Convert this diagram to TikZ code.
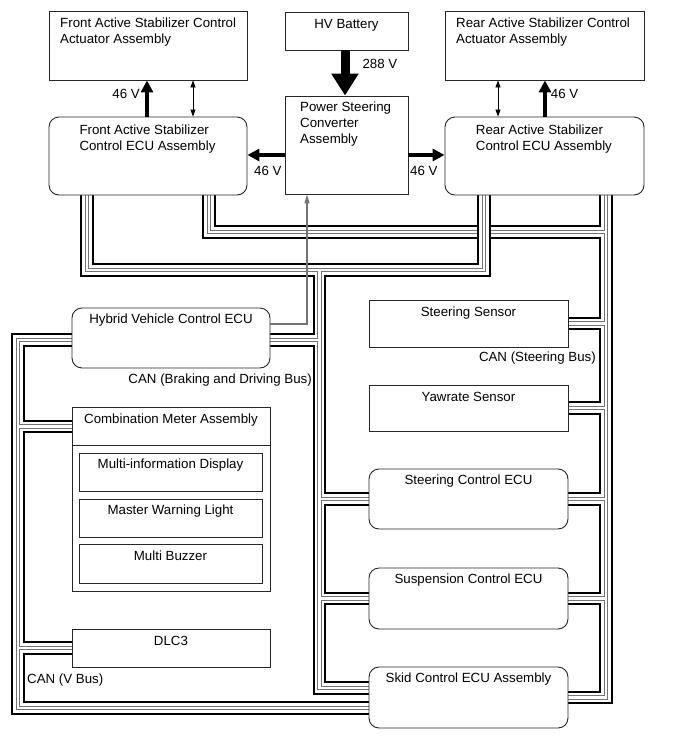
\documentclass[tikz,border=0pt]{standalone}
\usepackage{fontspec}
\setmainfont{Liberation Sans}
\usetikzlibrary{arrows.meta}
\pgfdeclarelayer{back}
\pgfdeclarelayer{bus}
\pgfsetlayers{back,bus,main}
\newcommand\busSteer[1]{%
  \draw[#1] (fecu.south -| sA) -- (sA) -- (sJ);
  \draw[#1] (recu.south -| sJ) -- (sB) -- (skid.east |- sB);
  \draw[#1] (ssens.east) -- (ssens.east -| sJ);
  \draw[#1] (yaw.east) -- (yaw.east -| sJ);
  \draw[#1] (sce.east) -- (sce.east -| sJ);
  \draw[#1] (susp.east) -- (susp.east -| sJ);
}
\newcommand\busBD[1]{%
  \draw[#1] (fecu.south -| bA) -- (bA) -- (bB) -- (recu.south -| bB);
  \draw[#1] (bJ) -- (bC) -- (skid.west |- bC);
  \draw[#1] (hvecu.east |- bH) -- (bH);
  \draw[#1] (sce.west -| bJ) -- (sce.west);
  \draw[#1] (susp.west -| bJ) -- (susp.west);
}
\newcommand\busV[1]{%
  \draw[#1] (hvecu.west |- vA) -- (vA) -- (vB) -- (skid.west |- vB);
  \draw[#1] (vC) -- (comb.west |- vC);
  \draw[#1] (vD) -- (dlc.west |- vD);
}
\begin{document}
\begin{tikzpicture}[x=1pt,y=-1pt,
  box/.style={draw=black!85, line width=0.9pt, fill=white, inner sep=0pt},
  rbox/.style={box, rounded corners=10pt},
  txt/.style={inner sep=0pt, font=\fontsize{13.3}{16}\selectfont, align=left},
  busLa/.style={line width=13.2pt, black, line join=miter, line cap=butt},
  busLb/.style={line width=9.2pt, white, line join=miter, line cap=butt},
  busLc/.style={line width=4.6pt, black!55, line join=miter, line cap=butt},
  busLd/.style={line width=2.6pt, white, line join=miter, line cap=butt},
  powarr/.style={line width=4.5pt, -{Triangle[length=12pt,width=12pt]}},
  bigarr/.style={line width=9pt, -{Triangle[length=22pt,width=26pt]}},
  dblarr/.style={line width=0.8pt, {Triangle[length=7pt,width=5pt]}-{Triangle[length=7pt,width=5pt]}},
  grayarr/.style={draw=black!55, line width=1.2pt, -{Triangle[length=9pt,width=5pt]}}
]
\begin{pgfonlayer}{back}
\fill[white] (0,0) rectangle (690,756);
\end{pgfonlayer}
\useasboundingbox (0,0) rectangle (690,756);

% boxes
\node[box, minimum width=198pt, minimum height=69pt] (fact) at (148,45.5) {};
\node[box, minimum width=123pt, minimum height=38pt] (hvb) at (346.5,31) {};
\node[box, minimum width=199pt, minimum height=69pt] (ract) at (544.5,45.5) {};
\node[box, minimum width=123pt, minimum height=98pt] (psc) at (346.5,145) {};
\node[rbox, minimum width=198pt, minimum height=78pt] (fecu) at (148,156) {};
\node[rbox, minimum width=199pt, minimum height=78pt] (recu) at (544.5,156) {};
\node[rbox, minimum width=198pt, minimum height=60pt] (hvecu) at (171,338) {};
\node[box, minimum width=199pt, minimum height=47pt] (ssens) at (468.5,323.5) {};
\node[box, minimum width=199pt, minimum height=46pt] (yaw) at (468.5,408) {};
\node[rbox, minimum width=199pt, minimum height=60pt] (sce) at (468.5,499) {};
\node[rbox, minimum width=199pt, minimum height=61pt] (susp) at (468.5,598.5) {};
\node[rbox, minimum width=199pt, minimum height=61pt] (skid) at (468.5,697.5) {};
\node[box, minimum width=198pt, minimum height=184pt] (comb) at (171,499) {};
\node[box, minimum width=183pt, minimum height=38pt] (mid) at (170.5,472) {};
\node[box, minimum width=183pt, minimum height=38pt] (mwl) at (170.5,518) {};
\node[box, minimum width=183pt, minimum height=39pt] (mbz) at (170.5,563.5) {};
\node[box, minimum width=198pt, minimum height=38pt] (dlc) at (171,648) {};
\coordinate (sep) at (0,445);
\draw[draw=black!85, line width=0.9pt] (comb.west |- sep) -- (comb.east |- sep);

% texts (multi-line nodes: base = last line)
\node[txt, anchor=base west] (tfact) at (60,43) {Front Active Stabilizer Control\\Actuator Assembly};
\node[txt, anchor=base] (thvb) at (346.5,28) {HV Battery};
\node[txt, anchor=base west] (tract) at (456,43) {Rear Active Stabilizer Control\\Actuator Assembly};
\node[txt, anchor=base west] (tpsc) at (300,143) {Power Steering\\Converter\\Assembly};
\node[txt, anchor=base west] (tfecu) at (79.3,150) {Front Active Stabilizer\\Control ECU Assembly};
\node[txt, anchor=base west] (trecu) at (475.7,150) {Rear Active Stabilizer\\Control ECU Assembly};
\node[txt, anchor=base] (thv) at (171,323.5) {Hybrid Vehicle Control ECU};
\node[txt, anchor=base] (tss) at (468.5,316.5) {Steering Sensor};
\node[txt, anchor=base] (tyaw) at (468.5,401) {Yawrate Sensor};
\node[txt, anchor=base] (tsce) at (468.5,484.5) {Steering Control ECU};
\node[txt, anchor=base] (tsusp) at (468.5,583.5) {Suspension Control ECU};
\node[txt, anchor=base] (tskid) at (468.5,682.5) {Skid Control ECU Assembly};
\node[txt, anchor=base] (tcomb) at (171,423.5) {Combination Meter Assembly};
\node[txt, anchor=base] (tmid) at (170.5,468.5) {Multi-information Display};
\node[txt, anchor=base] (tmwl) at (170.5,514.5) {Master Warning Light};
\node[txt, anchor=base] (tmbz) at (170.5,560.5) {Multi Buzzer};
\node[txt, anchor=base] (tdlc) at (171,645) {DLC3};

% voltage labels
\node[txt, anchor=base east] (v1) at (140,98) {46 V};
\node[txt, anchor=base west] (v2) at (254,175.6) {46 V};
\node[txt, anchor=base west] (v3) at (362.3,68) {288 V};
\node[txt, anchor=base west] (v4) at (550.7,98) {46 V};
\node[txt, anchor=base west] (v5) at (410,175.6) {46 V};
\node[txt, anchor=base east] (c1) at (312,383.6) {CAN (Braking and Driving Bus)};
\node[txt, anchor=base east] (c2) at (596,361.3) {CAN (Steering Bus)};
\node[txt, anchor=base west] (c3) at (27,683) {CAN (V Bus)};

% bus coordinates
\coordinate (sA) at (209,232);
\coordinate (sJ) at (606,232);
\coordinate (sB) at (606,697.5);
\coordinate (bA) at (87,270);
\coordinate (bB) at (484,270);
\coordinate (bJ) at (319.5,270);
\coordinate (bC) at (319.5,688);
\coordinate (bH) at (319.5,340);
\coordinate (vA) at (18,340);
\coordinate (vB) at (18,708);
\coordinate (vC) at (18,426.5);
\coordinate (vD) at (18,648);

\begin{pgfonlayer}{bus}
\busSteer{busLa}\busSteer{busLb}\busSteer{busLc}\busSteer{busLd}
\busBD{busLa}\busBD{busLb}\busBD{busLc}\busBD{busLd}
\busV{busLa}\busV{busLb}\busV{busLc}\busV{busLd}
\end{pgfonlayer}

% power arrows
\coordinate (xfa) at (147,0);
\coordinate (xfd) at (193,0);
\coordinate (xrd) at (498,0);
\coordinate (xra) at (545,0);
\coordinate (xhv) at (345,0);
\coordinate (yside) at (0,155);
\draw[powarr] (fecu.north -| xfa) -- (fact.south -| xfa);
\draw[dblarr] (fecu.north -| xfd) -- (fact.south -| xfd);
\draw[powarr] (recu.north -| xra) -- (ract.south -| xra);
\draw[dblarr] (recu.north -| xrd) -- (ract.south -| xrd);
\draw[bigarr] (hvb.south -| xhv) -- (psc.north -| xhv);
\draw[powarr] (psc.west |- yside) -- (fecu.east |- yside);
\draw[powarr] (psc.east |- yside) -- (recu.west |- yside);

% signal from HV ECU
\coordinate (gx) at (307,324);
\draw[grayarr] (hvecu.east |- gx) -- (gx) -- (psc.south -| gx);
\end{tikzpicture}
\end{document}
